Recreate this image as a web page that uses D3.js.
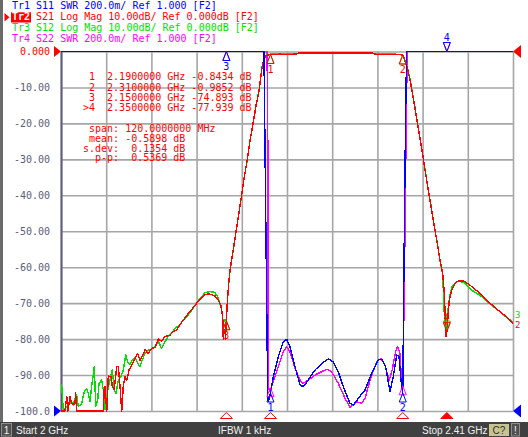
<!DOCTYPE html>
<html><head><meta charset="utf-8">
<script src="https://cdn.jsdelivr.net/npm/d3@7"></script>
<style>
html,body{margin:0;padding:0;background:#fff;}
svg{display:block;}
text{white-space:pre;}
</style></head><body>
<svg id="c" width="528" height="437"></svg>
<script>
// ---------------- data ----------------
const startMHz = 2000, stopMHz = 2410;
const gridFreqs = [2000, 2041, 2082, 2123, 2164, 2205, 2246, 2287, 2328, 2369, 2410];
const dbTicks = [0, -10, -20, -30, -40, -50, -60, -70, -80, -90, -100];
const dbTickLabels = ["0.000", "-10.00", "-20.00", "-30.00", "-40.00", "-50.00", "-60.00", "-70.00", "-80.00", "-90.00", "-100.0"];

const headerLines = [
  "Tr1 S11 SWR 200.0m/ Ref 1.000 [F2]",
  "Tr2 S21 Log Mag 10.00dB/ Ref 0.000dB [F2]",
  "Tr3 S12 Log Mag 10.00dB/ Ref 0.000dB [F2]",
  "Tr4 S22 SWR 200.0m/ Ref 1.000 [F2]"
];
const markerTable = [
  " 1  2.1900000 GHz -0.8434 dB",
  " 2  2.3100000 GHz -0.9852 dB",
  " 3  2.1500000 GHz -74.893 dB",
  ">4  2.3500000 GHz -77.939 dB"
];
const statsLines = [
  " span: 120.0000000 MHz",
  " mean: -0.5898 dB",
  "s.dev:  0.1354 dB",
  "  p-p:  0.5369 dB"
];

// marker frequencies (MHz) and labels
const markerFreqs = [2190, 2310, 2150, 2350];
const markerNames = ["1", "2", "3", "4"];
const activeMarker = 3;
// marker readouts per trace
const mkS21 = [-0.8434, -0.9852, -74.893, -77.939];
const mkS12 = [-0.80, -0.95, -74.9, -77.5];
const mkS11 = [1.10, 1.10, 9.0, 9.0];
const mkS22 = [1.13, 1.14, 8.0, 8.0];

// S21 (Tr2, red) : frequency MHz / dB
const s21Freq = [2000.0,2001.4,2003.6,2005.2,2006.3,2008.2,2009.7,2012.7,2013.3,2014.2,2018.8,2026.3,2035.4,2038.4,2039.3,2039.9,2041.5,2042.9,2045.4,2046.5,2048.3,2050.5,2052.0,2053.5,2055.1,2056.5,2058.1,2059.6,2061.7,2064.1,2067.1,2069.6,2071.7,2073.7,2076.2,2079.2,2082.3,2085.3,2088.3,2091.3,2094.3,2098.8,2101.9,2104.9,2107.9,2110.9,2114.0,2117.0,2120.0,2123.1,2126.1,2128.4,2130.6,2132.9,2135.2,2137.9,2139.7,2142.7,2144.9,2146.0,2146.7,2147.2,2148.0,2148.8,2149.2,2150.0,2150.8,2152.1,2153.3,2155.1,2157.8,2160.6,2163.3,2166.0,2168.7,2171.4,2174.2,2176.9,2179.6,2182.3,2184.1,2186.0,2187.8,2190.0,2194.1,2198.6,2207.7,2213.6,2215.0,2225.9,2234.9,2244.0,2253.1,2262.1,2271.2,2283.0,2284.8,2293.9,2303.0,2307.5,2310.0,2311.1,2312.0,2313.8,2316.6,2319.3,2321.1,2324.7,2327.5,2330.2,2332.9,2335.6,2338.3,2341.1,2343.8,2346.2,2347.7,2348.3,2349.2,2350.0,2351.0,2352.2,2354.4,2357.4,2360.4,2364.9,2371.0,2380.1,2389.1,2398.2,2404.3,2408.8,2410.0];
const s21Db = [-100,-100,-100,-96,-100,-96,-98,-98,-95,-100,-100,-100,-100,-100,-93.2,-93.2,-100,-90.3,-90.5,-93,-94,-87.7,-87.7,-93,-100,-93,-90.5,-91.5,-88.6,-87.3,-85.3,-84,-86,-84.8,-83,-84,-82.6,-82.3,-80,-80.6,-79.3,-78.9,-77.9,-77.4,-76.1,-74.7,-73.4,-72.4,-71.2,-70,-69.1,-68.3,-67.7,-67.5,-67.5,-67.8,-68,-69.1,-70.5,-72.5,-73.8,-80.2,-77.5,-77.3,-80,-74.9,-70,-64.5,-60.8,-57.3,-52,-46.5,-41,-35.5,-30.5,-25,-20,-15,-11,-4.5,-2.2,-1.2,-0.95,-0.84,-0.8,-0.75,-0.78,-0.72,-0.45,-0.42,-0.4,-0.41,-0.4,-0.43,-0.42,-0.45,-0.75,-0.78,-0.76,-0.85,-0.985,-1.8,-2.8,-4.2,-7.9,-12.6,-15.8,-22.5,-27.5,-33,-38,-43,-48,-53,-58,-61.7,-67.2,-71.9,-79.3,-77.9,-74,-69.1,-66.3,-64.5,-63.8,-63.8,-65,-67.3,-70,-72.4,-73.8,-75.2,-75.6];

// S12 (Tr3, green)
const s12Freq = [2000.0,2000.6,2002.1,2005.2,2009.7,2011.2,2012.7,2014.2,2015.7,2018.8,2021.1,2023.3,2024.8,2026.3,2027.8,2030.2,2031.5,2033.3,2034.5,2036.9,2038.4,2039.9,2042.4,2044.4,2046.5,2048.3,2049.9,2052.0,2054.4,2056.5,2058.7,2060.5,2062.6,2064.7,2067.1,2069.6,2071.7,2073.7,2076.2,2079.2,2082.3,2085.3,2088.3,2091.3,2094.3,2097.3,2100.4,2103.4,2107.9,2110.9,2114.0,2118.5,2123.1,2126.1,2130.6,2135.2,2139.7,2142.7,2145.8,2147.2,2148.8,2150.0,2150.8,2152.1,2153.3,2155.1,2157.8,2160.6,2163.3,2166.0,2168.7,2171.4,2174.2,2176.9,2179.6,2182.3,2184.1,2186.0,2187.8,2190.0,2198.6,2207.7,2213.6,2215.0,2230.0,2240.0,2245.0,2253.1,2271.2,2283.0,2284.8,2303.0,2307.5,2310.0,2311.1,2313.8,2316.6,2319.3,2321.1,2324.7,2327.5,2330.2,2332.9,2335.6,2338.3,2341.1,2343.8,2346.2,2347.5,2348.5,2349.2,2350.0,2351.0,2352.6,2355.0,2358.0,2361.0,2366.0,2372.0,2380.1,2389.1,2398.2,2404.3,2410.0];
const s12Db = [-93,-92.8,-99.7,-98.8,-97.4,-98.3,-96.5,-95.5,-98.8,-97.9,-94.6,-93.7,-95.1,-97.4,-93.2,-87.7,-98.8,-96.9,-92.3,-91.4,-94.2,-99.7,-94.2,-91.4,-88.4,-94.2,-95.1,-91.4,-90.5,-88.6,-84.4,-86.3,-87.2,-85.8,-85.1,-86.7,-87.7,-85.8,-84,-83,-82.8,-82.1,-80.7,-82.6,-80.7,-79.3,-78.4,-77,-76.1,-74.7,-73.8,-72.0,-69.9,-68.7,-67.1,-66.8,-67,-68.6,-71.9,-75.6,-74.5,-74.9,-70.3,-64.8,-61,-57.5,-52.2,-46.3,-41.2,-35.3,-30.7,-24.8,-20.2,-15.2,-10.8,-4.3,-2.0,-1.1,-0.8,-0.75,-0.7,-0.72,-0.7,-0.43,-0.35,-0.4,-0.3,-0.38,-0.4,-0.44,-0.72,-0.74,-0.8,-0.95,-1.7,-4.0,-7.6,-12.4,-15.6,-22.3,-27.8,-32.7,-38.2,-42.8,-48.2,-52.8,-58.2,-62,-72,-75.5,-73.5,-77.5,-72,-68,-65.2,-64.2,-63.9,-64.4,-66.3,-67.8,-70.2,-72.4,-74,-75.3];

// S11 (Tr1, blue) : SWR
const s11Freq = [2000.0,2100.0,2180.0,2184.1,2187.5,2188.2,2190.0,2192.6,2197.1,2201.6,2204.7,2207.7,2212.3,2216.8,2219.8,2224.3,2230.4,2236.5,2242.5,2247.0,2251.5,2256.1,2262.1,2265.2,2269.7,2275.8,2281.8,2287.8,2290.9,2294.5,2298.4,2301.4,2304.5,2306.6,2309.0,2310.0,2311.1,2312.5,2313.5,2320.0,2410.0];
const s11Swr = [12,18,8,3.1,1.08,1.056,1.10,1.191,1.302,1.386,1.399,1.358,1.246,1.145,1.135,1.172,1.228,1.265,1.289,1.274,1.219,1.135,1.043,1.033,1.071,1.117,1.21,1.284,1.288,1.246,1.107,1.191,1.312,1.302,1.13,1.10,1.8,2.6,3.3,10,15];

// S22 (Tr4, magenta) : SWR
const s22Freq = [2000.0,2100.0,2180.0,2186.9,2187.6,2188.0,2189.6,2192.6,2197.1,2201.6,2204.7,2207.7,2212.3,2216.8,2219.8,2224.3,2230.4,2236.5,2241.0,2245.5,2251.5,2257.6,2262.1,2265.2,2268.2,2272.7,2275.8,2280.3,2286.3,2290.2,2293.8,2297.7,2300.4,2303.5,2305.3,2307.5,2309.0,2310.0,2311.4,2313.5,2314.5,2320.0,2410.0];
const s22Swr = [10,15,7,3.1,2.5,1.136,1.107,1.163,1.246,1.33,1.358,1.33,1.238,1.172,1.154,1.172,1.2,1.219,1.232,1.219,1.154,1.071,1.021,1.033,1.052,1.043,1.071,1.172,1.274,1.293,1.256,1.172,1.228,1.33,1.358,1.321,1.154,1.14,1.66,2.79,3.5,8,12];

// ---------------- drawing ----------------
const BLUE = "#0000ff", RED = "#ff0000", GREEN = "#00e000", MAG = "#ff00ff";
const AXIS = "#5c5c7a", GRID = "#a6a6a6";
const mono = "'DejaVu Sans Mono', monospace";
const sans = "'Liberation Sans', Arial, sans-serif";

const svg = d3.select("#c");
const L = 61, R = 513, T = 51.5, B = 411;
const x = d3.scaleLinear().domain([startMHz, stopMHz]).range([L, R]);
const yDb = d3.scaleLinear().domain([-100, 0]).range([B, T]).clamp(true);
const ySwr = d3.scaleLinear().domain([1, 3]).range([B, T]).clamp(true);

svg.append("rect").attr("width", 528).attr("height", 437).attr("fill", "#ffffff");
svg.append("rect").attr("x", 0).attr("y", 0).attr("width", 3).attr("height", 422).attr("fill", "#6a6a6a");

// grid
const vg = svg.append("g").attr("transform", `translate(0,${B})`)
  .call(d3.axisBottom(x).tickValues(gridFreqs).tickSize(-(B - T)).tickFormat(""));
vg.select(".domain").remove();
vg.selectAll("line").attr("stroke", GRID).attr("stroke-width", 1.6);

const hg = svg.append("g").attr("transform", `translate(${L},0)`)
  .call(d3.axisLeft(yDb).tickValues(dbTicks).tickSize(-(R - L)).tickFormat(""));
hg.select(".domain").remove();
hg.selectAll("line").attr("stroke", GRID).attr("stroke-width", 1.6);

// y axis labels
const ya = svg.append("g").attr("transform", `translate(${L},0)`)
  .call(d3.axisLeft(yDb).tickValues(dbTicks).tickSize(0).tickPadding(11).tickFormat((d, i) => dbTickLabels[i]));
ya.select(".domain").attr("stroke", AXIS).attr("stroke-width", 2);
ya.selectAll("text").attr("font-family", mono).attr("font-size", 10)
  .attr("fill", (d, i) => i === 0 ? RED : AXIS);

// traces
function trace(freqs, vals, ys, color) {
  const pts = freqs.map((f, i) => [f, vals[i]]);
  svg.append("path").datum(pts)
    .attr("d", d3.line().x(d => x(d[0])).y(d => ys(d[1])))
    .attr("fill", "none").attr("stroke", color).attr("stroke-width", 1.4)
    .attr("stroke-linejoin", "round").attr("shape-rendering", "crispEdges");
}
trace(s22Freq, s22Swr, ySwr, MAG);
trace(s12Freq, s12Db, yDb, GREEN);
trace(s21Freq, s21Db, yDb, RED);
trace(s11Freq, s11Swr, ySwr, BLUE);

// markers (labels only shown for the traces whose labels are visible on top)
function markers(vals, ys, color, withLabels) {
  markerFreqs.forEach((f, i) => {
    const px = x(f), py = ys(vals[i]);
    const g = svg.append("g");
    const up = i !== activeMarker;
    const dir = up ? 1 : -1;
    g.append("path").attr("d", `M${px},${py}L${px - 3.5},${py + dir * 9}L${px + 3.5},${py + dir * 9}Z`)
      .attr("fill", "none").attr("stroke", color).attr("stroke-width", 1);
    if (withLabels) {
      g.append("text").attr("x", px).attr("y", up ? py + 18 : py - 11).attr("text-anchor", "middle")
        .attr("font-family", mono).attr("font-size", 10).attr("fill", color).text(markerNames[i]);
    }
  });
}
markers(mkS22, ySwr, MAG, false);
markers(mkS12, yDb, GREEN, false);
markers(mkS21, yDb, RED, true);
markers(mkS11, ySwr, BLUE, true);

// trace end labels
svg.append("text").attr("x", 515).attr("y", yDb(s12Db[s12Db.length - 1]) - 4.5).attr("font-family", mono)
  .attr("font-size", 9).attr("fill", GREEN).text("3");
svg.append("text").attr("x", 515).attr("y", yDb(s21Db[s21Db.length - 1]) + 5).attr("font-family", mono)
  .attr("font-size", 9).attr("fill", RED).text("2");

// reference position arrows
svg.append("path").attr("d", `M${L},${T}L${L - 7},${T - 5.5}L${L - 7},${T + 5.5}Z`).attr("fill", RED);
svg.append("path").attr("d", `M${L},${B}L${L - 7},${B - 5.5}L${L - 7},${B + 5.5}Z`).attr("fill", BLUE);
svg.append("path").attr("d", `M${R},${T}L${R + 8},${T - 6.5}L${R + 8},${T + 6.5}Z`).attr("fill", RED);
svg.append("path").attr("d", `M${R},${B}L${R + 8},${B - 6.5}L${R + 8},${B + 6.5}Z`).attr("fill", BLUE);

// bottom marker indicators
markerFreqs.forEach((f, i) => {
  const px = x(f);
  svg.append("path").attr("d", `M${px},${412.5}L${px - 6},${418.5}L${px + 6},${418.5}Z`)
    .attr("fill", i === activeMarker ? RED : "none").attr("stroke", RED).attr("stroke-width", 1);
});

// header
const hColors = [BLUE, RED, GREEN, MAG];
svg.append("rect").attr("x", 11).attr("y", 12.3).attr("width", 20).attr("height", 10.2).attr("fill", RED);
svg.append("path").attr("d", "M4.5,13L9.5,17.3L4.5,21.5Z").attr("fill", RED);
headerLines.forEach((t, i) => {
  const tx = svg.append("text").attr("x", 12).attr("y", 9.4 + i * 11)
    .attr("font-family", mono).attr("font-size", 10).attr("fill", hColors[i]);
  if (i === 1) {
    tx.append("tspan").attr("fill", "#ffffff").attr("font-weight", "bold").text(t.slice(0, 3));
    tx.append("tspan").text(t.slice(3));
  } else tx.text(t);
});

// marker table
markerTable.forEach((t, i) => {
  svg.append("text").attr("x", 83).attr("y", 80.3 + i * 10.2)
    .attr("font-family", mono).attr("font-size", 10).attr("fill", RED).text(t);
});
statsLines.forEach((t, i) => {
  svg.append("text").attr("x", 83).attr("y", 132 + i * 9.8)
    .attr("font-family", mono).attr("font-size", 10).attr("fill", RED).text(t);
});

// status bar
svg.append("rect").attr("x", 0).attr("y", 422).attr("width", 528).attr("height", 15).attr("fill", "#404040");
svg.append("rect").attr("x", 1.5).attr("y", 423.5).attr("width", 10).attr("height", 12.5)
  .attr("fill", "#505050").attr("stroke", "#8c8c8c");
svg.append("text").attr("x", 6.5).attr("y", 433.5).attr("text-anchor", "middle").attr("font-family", sans)
  .attr("font-size", 10).attr("fill", "#f0f0f0").text("1");
svg.append("text").attr("x", 16).attr("y", 433.5).attr("font-family", sans).attr("font-size", 10)
  .attr("fill", "#f0f0f0").text("Start 2 GHz");
svg.append("text").attr("x", 218).attr("y", 433.5).attr("font-family", sans).attr("font-size", 10)
  .attr("fill", "#f0f0f0").text("IFBW 1 kHz");
svg.append("text").attr("x", 422).attr("y", 433.5).attr("font-family", sans).attr("font-size", 10)
  .attr("fill", "#f0f0f0").text("Stop 2.41 GHz");
svg.append("rect").attr("x", 489).attr("y", 424).attr("width", 20).attr("height", 12).attr("fill", "#c8c490");
svg.append("text").attr("x", 499).attr("y", 433.5).attr("text-anchor", "middle").attr("font-family", sans)
  .attr("font-size", 10).attr("fill", "#303030").text("C?");
svg.append("rect").attr("x", 511.5).attr("y", 423.5).attr("width", 8).attr("height", 12.5)
  .attr("fill", "#505050").attr("stroke", "#8c8c8c");
svg.append("text").attr("x", 515.5).attr("y", 433.5).attr("text-anchor", "middle").attr("font-family", sans)
  .attr("font-size", 10).attr("fill", "#f0f0f0").text("!");
</script></body></html>
